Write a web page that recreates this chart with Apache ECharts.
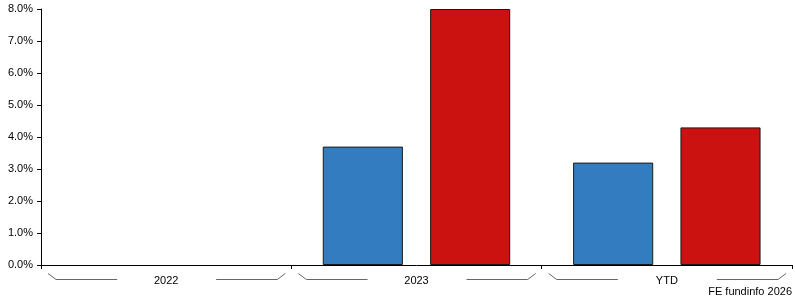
<!DOCTYPE html>
<html>
<head>
<meta charset="utf-8">
<script src="https://cdn.jsdelivr.net/npm/echarts@6/dist/echarts.min.js"></script>
<style>html,body{margin:0;padding:0;background:#fff}#c{width:795px;height:300px}</style>
</head>
<body>
<div id="c"></div>
<script>
var categories = ['2022', '2023', 'YTD'];
var seriesA = [null, 3.7, 3.2];
var seriesB = [null, 8.0, 4.3];
var yTicks = [0, 1, 2, 3, 4, 5, 6, 7, 8];
var credit = 'FE fundinfo 2026';

var font = 'Liberation Sans, Arial, sans-serif';
var chart = echarts.init(document.getElementById('c'), null, {renderer: 'canvas'});
var option = {
  animation: false,
  backgroundColor: '#fff',
  grid: {left: 41, right: 3, top: 9, bottom: 35, containLabel: false},
  xAxis: {
    type: 'category',
    data: categories,
    axisLine: {lineStyle: {color: '#000', width: 1}},
    axisTick: {show: true, length: 4, lineStyle: {color: '#000'}},
    axisLabel: {color: '#000', fontSize: 11, fontFamily: font, margin: 10},
    splitLine: {show: false}
  },
  yAxis: {
    type: 'value',
    min: yTicks[0],
    max: yTicks[yTicks.length - 1],
    interval: 1,
    axisLine: {show: true, lineStyle: {color: '#000', width: 1}},
    axisTick: {show: true, length: 4, lineStyle: {color: '#000'}},
    axisLabel: {color: '#000', fontSize: 11, fontFamily: font, margin: 8,
      formatter: function (v) { return v.toFixed(1) + '%'; }},
    splitLine: {show: false}
  },
  series: [
    {type: 'bar', data: seriesA, barWidth: '32%', barGap: '34%',
     itemStyle: {color: '#337cbf', borderColor: '#1a1a1a', borderWidth: 1}},
    {type: 'bar', data: seriesB, barWidth: '32%', barGap: '34%',
     itemStyle: {color: '#cc1111', borderColor: '#1a1a1a', borderWidth: 1}}
  ],
  graphic: [{
    type: 'text', right: 3, bottom: 3,
    style: {text: credit, fill: '#000', font: '11px ' + font}
  }]
};
chart.setOption(option);

var y0 = chart.convertToPixel({yAxisIndex: 0}, 0);
var c0 = chart.convertToPixel({xAxisIndex: 0}, categories[0]);
var c1 = chart.convertToPixel({xAxisIndex: 0}, categories[1]);
var bw = c1 - c0;
var g = [];
categories.forEach(function (cat) {
  var c = chart.convertToPixel({xAxisIndex: 0}, cat);
  var L = c - bw / 2, R = c + bw / 2;
  var yt = Math.round(y0) + 8.5, yb = Math.round(y0) + 14.5;
  g.push({type: 'polyline', silent: true, shape: {points: [[L + 7, yt], [L + 15, yb], [c - 49, yb]]},
    style: {stroke: '#666', lineWidth: 1, fill: null}});
  g.push({type: 'polyline', silent: true, shape: {points: [[c + 50, yb], [R - 14, yb], [R - 6, yt]]},
    style: {stroke: '#666', lineWidth: 1, fill: null}});
});
chart.setOption({graphic: option.graphic.concat(g)});
</script>
</body>
</html>
